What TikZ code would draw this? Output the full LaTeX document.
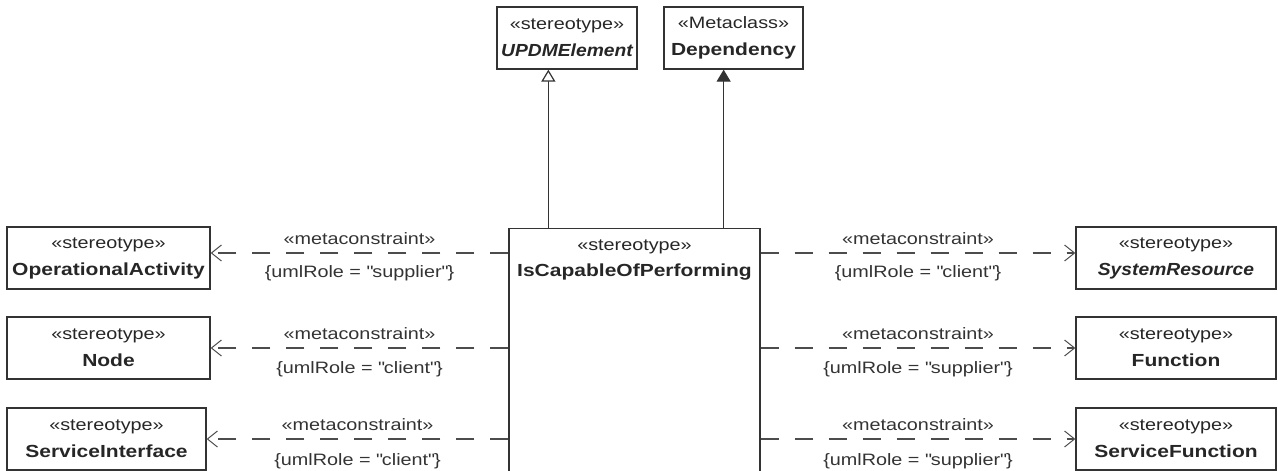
\documentclass[tikz,border=0pt]{standalone}
\usepackage{fontspec}
\setmainfont{Liberation Sans}[FakeStretch=1.2, BoldItalicFeatures={FakeStretch=1.1}]
\usetikzlibrary{arrows.meta}

\newcommand{\cname}[1]{{\fontsize{17.5}{27}\selectfont\bfseries #1}}
\newcommand{\cnameit}[1]{{\fontsize{17.5}{27}\selectfont\bfseries\itshape #1}}
\newcommand{\role}[1]{\{umlRole = \textquotedbl#1\textquotedbl\}}

\begin{document}
\begin{tikzpicture}[x=1pt, y=-1pt,
	classbox/.style={draw=black!80, line width=1.3pt, align=center, inner sep=0pt,
		minimum height=62pt, text=black!85, font=\fontsize{16.5}{27}\selectfont,
		execute at begin node={\rule{0pt}{21pt}}},
	tag/.style={text=black!80, font=\fontsize{16.5}{20}\selectfont},
	constraint/.style={draw=black!70, line width=1.2pt, dash pattern=on 18pt off 16pt,
		-{Straight Barb[length=10pt, width=16pt, line width=1pt]}},
	inherit/.style={draw=black!80, line width=1.2pt, -{Triangle[open, length=12pt, width=14pt, fill=white]}},
	realize/.style={draw=black!80, line width=1.2pt, -{Triangle[length=12pt, width=14pt]}}]
	\useasboundingbox (0,0) rectangle (1278,471);

	% top: metaclass and stereotype
	\node[classbox, minimum width=140pt] (upd) at (567,38) {«stereotype»\\\cnameit{UPDMElement}};
	\node[classbox, minimum width=139pt] (dep) at (733.5,38) {«Metaclass»\\\cname{Dependency}};

	% centre
	\node[classbox, minimum width=251pt, minimum height=300pt, anchor=north] (icop) at (634.5,228) {};
	\node[align=center, anchor=north, inner sep=0pt, text=black!85, font=\fontsize{16.5}{26}\selectfont]
		(icoptitle) at (634.5,240) {«stereotype»\\\cname{IsCapableOfPerforming}};

	% left column
	\node[classbox, minimum width=203pt] (opa) at (108.5,258) {«stereotype»\\\cname{OperationalActivity}};
	\node[classbox, minimum width=203pt] (nod) at (108.5,348) {«stereotype»\\\cname{Node}};
	\node[classbox, minimum width=199pt] (sif) at (106.5,439) {«stereotype»\\\cname{ServiceInterface}};

	% right column
	\node[classbox, minimum width=200pt] (sres) at (1176,258) {«stereotype»\\\cnameit{SystemResource}};
	\node[classbox, minimum width=200pt] (fun) at (1176,348) {«stereotype»\\\cname{Function}};
	\node[classbox, minimum width=200pt] (sfun) at (1176,439) {«stereotype»\\\cname{ServiceFunction}};

	\draw[inherit] ([xshift=40pt]icop.north west) -- ([xshift=40pt]icop.north west |- upd.south);
	\draw[realize] ([xshift=-37pt]icop.north east) -- ([xshift=-37pt]icop.north east |- dep.south);

	\draw[constraint] (icop.west |- 0,253) -- ([yshift=5pt]opa.east)
		node[tag, midway, yshift=14pt] (mc1) {«metaconstraint»}
		node[tag, midway, yshift=-20pt] (ur1) {\role{supplier}};
	\draw[constraint] (icop.west |- nod.east) -- (nod.east)
		node[tag, midway, yshift=14pt] (mc2) {«metaconstraint»}
		node[tag, midway, yshift=-21pt] (ur2) {\role{client}};
	\draw[constraint] (icop.west |- sif.east) -- (sif.east)
		node[tag, midway, yshift=14pt] (mc3) {«metaconstraint»}
		node[tag, midway, yshift=-22pt] (ur3) {\role{client}};

	\draw[constraint] (icop.east |- 0,253) -- ([yshift=5pt]sres.west)
		node[tag, midway, yshift=14pt] (mc4) {«metaconstraint»}
		node[tag, midway, yshift=-20pt] (ur4) {\role{client}};
	\draw[constraint] (icop.east |- fun.west) -- (fun.west)
		node[tag, midway, yshift=14pt] (mc5) {«metaconstraint»}
		node[tag, midway, yshift=-21pt] (ur5) {\role{supplier}};
	\draw[constraint] (icop.east |- sfun.west) -- (sfun.west)
		node[tag, midway, yshift=14pt] (mc6) {«metaconstraint»}
		node[tag, midway, yshift=-22pt] (ur6) {\role{supplier}};
\end{tikzpicture}
\end{document}
